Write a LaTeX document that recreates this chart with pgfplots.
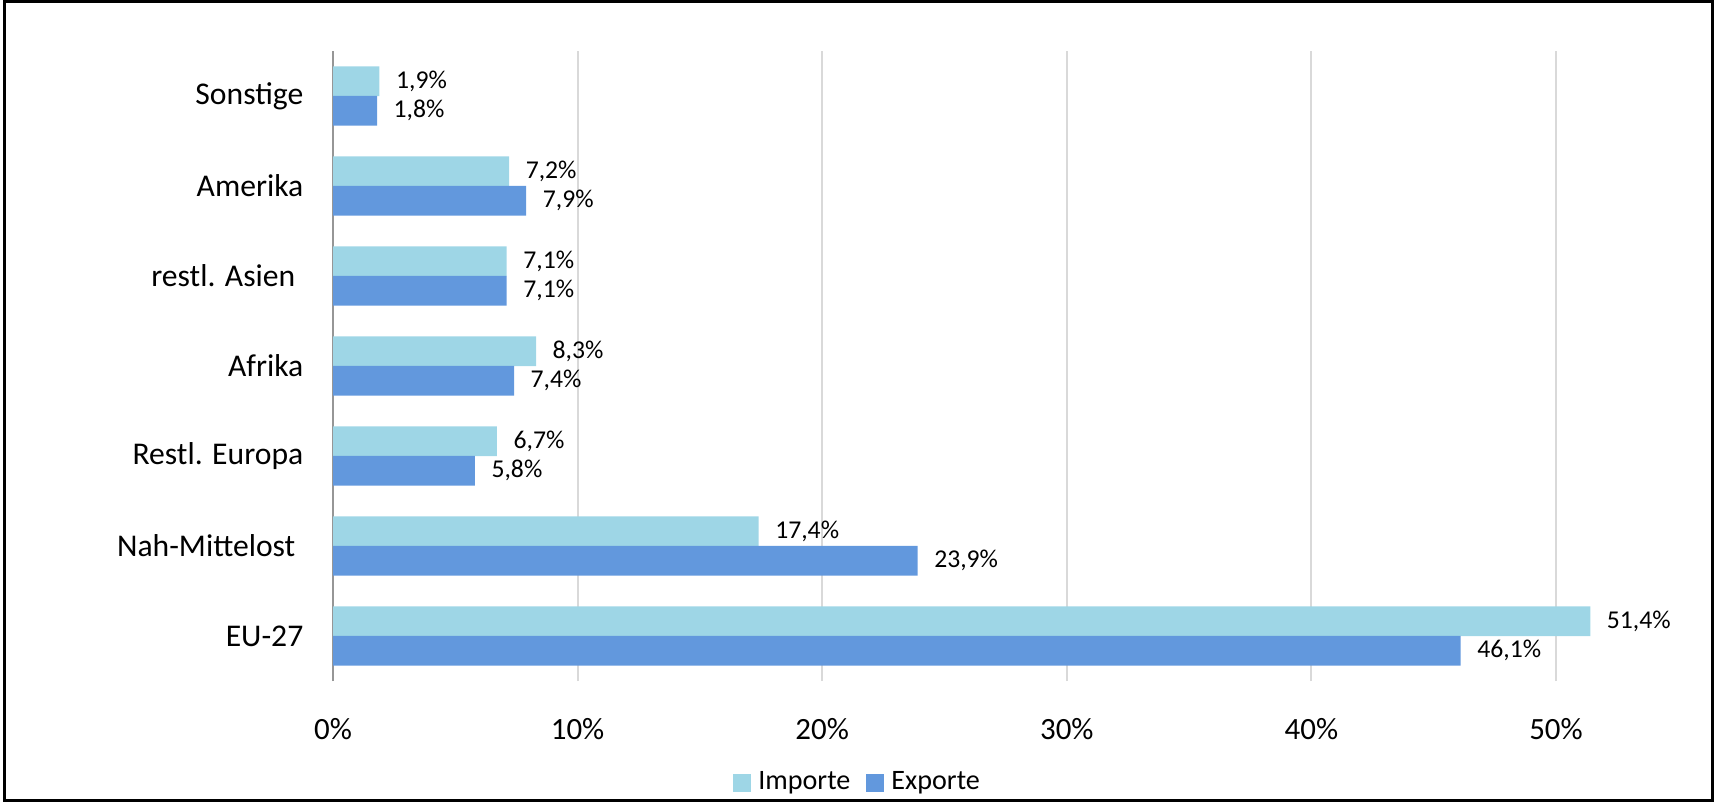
\documentclass[border=0pt]{standalone}
\usepackage{fontspec}
\setmainfont{Carlito}
\usepackage{pgfplots}
\pgfplotsset{compat=1.18}
\definecolor{importe}{RGB}{158,214,230}
\definecolor{exporte}{RGB}{98,152,221}
\definecolor{gridgray}{RGB}{217,217,217}
\definecolor{axisgray}{RGB}{150,150,150}

\begin{document}
\begin{tikzpicture}
\useasboundingbox (0,0) rectangle (173.2mm,80.2mm);
\draw[line width=0.3mm] (0.5mm,0.2mm) rectangle (171.2mm,80.0mm);
\begin{axis}[
    at={(33.3mm,12.1mm)}, anchor=south west,
    scale only axis, width=122.3mm, height=63mm,
    xbar, bar width=0.33,
    xmin=0, xmax=50, ymin=-0.5, ymax=6.5,
    clip=false,
    axis lines*=left,
    x axis line style={draw=none},
    y axis line style={draw=axisgray, line width=0.2mm},
    xmajorgrids, grid style={gridgray, line width=0.2mm},
    major tick length=0pt,
    xtick={0,10,...,50},
    xticklabel={\pgfmathprintnumber[assume math mode=true]{\tick}\%},
    xticklabel style={anchor=center, yshift=-4.8mm, font=\fontsize{8.8}{10.5}\selectfont},
    ytick={0,...,6},
    yticklabels={EU-27, Nah-Mittelost\kern0.8mm, Restl. Europa, Afrika, restl. Asien\kern0.8mm, Amerika, Sonstige},
    yticklabel style={anchor=east, inner sep=0pt, xshift=-2.9mm, font=\fontsize{9}{11}\selectfont},
    point meta=x,
    nodes near coords={\pgfmathprintnumber[fixed, fixed zerofill, precision=1, use comma, assume math mode=true]{\pgfplotspointmeta}\%},
    every node near coord/.append style={anchor=west, inner sep=0pt, xshift=1.6mm, text=black, font=\fontsize{7.3}{8.5}\selectfont},
    legend style={at={(0.431,-0.162)}, anchor=center, draw=none, fill=none, legend columns=2,
        font=\fontsize{8}{9.6}\selectfont,
        /tikz/every even column/.append style={column sep=0.9mm}},
    legend image code/.code={\fill[#1] (0mm,-0.9mm) rectangle (1.8mm,0.9mm);},
]
\addplot[fill=importe, draw=none, bar shift=0.163] coordinates {
    (51.4,0) (17.4,1) (6.7,2) (8.3,3) (7.1,4) (7.2,5) (1.9,6)
};
\addlegendentry{Importe}
\addplot[fill=exporte, draw=none, bar shift=-0.163] coordinates {
    (46.1,0) (23.9,1) (5.8,2) (7.4,3) (7.1,4) (7.9,5) (1.8,6)
};
\addlegendentry{Exporte}
\end{axis}
\end{tikzpicture}
\end{document}
